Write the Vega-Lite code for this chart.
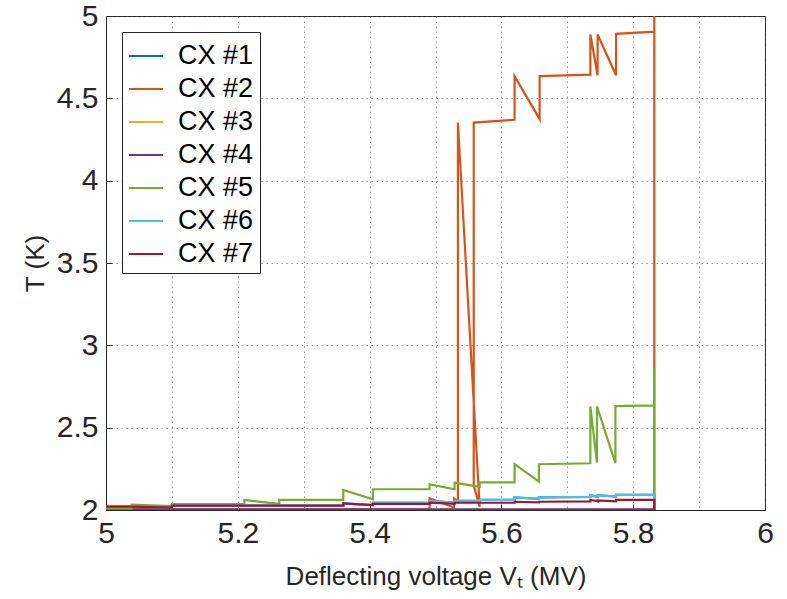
{
  "$schema": "https://vega.github.io/schema/vega-lite/v6.json",
  "autosize": "none",
  "width": 659,
  "height": 494,
  "padding": {"left": 106, "top": 16, "right": 22, "bottom": 89},
  "background": "white",
  "config": {
    "font": "Liberation Sans",
    "view": {"stroke": "#262626", "strokeWidth": 1},
    "axis": {
      "labelFont": "Liberation Sans",
      "titleFont": "Liberation Sans",
      "labelColor": "#262626",
      "titleColor": "#262626",
      "labelFontSize": 30,
      "titleFontSize": 26,
      "titleFontWeight": "normal",
      "domainColor": "#262626",
      "tickColor": "#262626",
      "gridColor": "#555555",
      "gridOpacity": 0.6,
      "gridDash": [1.5, 3.5],
      "gridWidth": 1
    }
  },
  "data": {
    "values": [
      {"s": "CX #1", "i": 0, "v": 5.0, "t": 2.02},
      {"s": "CX #1", "i": 1, "v": 5.04, "t": 2.02},
      {"s": "CX #1", "i": 2, "v": 5.1, "t": 2.015},
      {"s": "CX #1", "i": 3, "v": 5.1, "t": 2.026},
      {"s": "CX #1", "i": 4, "v": 5.36, "t": 2.026},
      {"s": "CX #1", "i": 5, "v": 5.36, "t": 2.04},
      {"s": "CX #1", "i": 6, "v": 5.405, "t": 2.03},
      {"s": "CX #1", "i": 7, "v": 5.405, "t": 2.044},
      {"s": "CX #1", "i": 8, "v": 5.491, "t": 2.044},
      {"s": "CX #1", "i": 9, "v": 5.491, "t": 2.055},
      {"s": "CX #1", "i": 10, "v": 5.529, "t": 2.045},
      {"s": "CX #1", "i": 11, "v": 5.529, "t": 2.055},
      {"s": "CX #1", "i": 12, "v": 5.567, "t": 2.055},
      {"s": "CX #1", "i": 13, "v": 5.567, "t": 2.061},
      {"s": "CX #1", "i": 14, "v": 5.62, "t": 2.061},
      {"s": "CX #1", "i": 15, "v": 5.62, "t": 2.077},
      {"s": "CX #1", "i": 16, "v": 5.657, "t": 2.068},
      {"s": "CX #1", "i": 17, "v": 5.657, "t": 2.077},
      {"s": "CX #1", "i": 18, "v": 5.735, "t": 2.08},
      {"s": "CX #1", "i": 19, "v": 5.735, "t": 2.09},
      {"s": "CX #1", "i": 20, "v": 5.746, "t": 2.08},
      {"s": "CX #1", "i": 21, "v": 5.746, "t": 2.09},
      {"s": "CX #1", "i": 22, "v": 5.774, "t": 2.082},
      {"s": "CX #1", "i": 23, "v": 5.774, "t": 2.092},
      {"s": "CX #1", "i": 24, "v": 5.832, "t": 2.092},
      {"s": "CX #1", "i": 25, "v": 5.832, "t": 2.0},

      {"s": "CX #2", "i": 0, "v": 5.0, "t": 2.006},
      {"s": "CX #2", "i": 1, "v": 5.491, "t": 2.006},
      {"s": "CX #2", "i": 2, "v": 5.491, "t": 2.071},
      {"s": "CX #2", "i": 3, "v": 5.528, "t": 2.015},
      {"s": "CX #2", "i": 4, "v": 5.528, "t": 2.071},
      {"s": "CX #2", "i": 5, "v": 5.534, "t": 2.05},
      {"s": "CX #2", "i": 6, "v": 5.534, "t": 4.353},
      {"s": "CX #2", "i": 7, "v": 5.567, "t": 2.02},
      {"s": "CX #2", "i": 8, "v": 5.558, "t": 2.15},
      {"s": "CX #2", "i": 9, "v": 5.558, "t": 4.353},
      {"s": "CX #2", "i": 10, "v": 5.62, "t": 4.37},
      {"s": "CX #2", "i": 11, "v": 5.62, "t": 4.635},
      {"s": "CX #2", "i": 12, "v": 5.658, "t": 4.374},
      {"s": "CX #2", "i": 13, "v": 5.658, "t": 4.635},
      {"s": "CX #2", "i": 14, "v": 5.735, "t": 4.644},
      {"s": "CX #2", "i": 15, "v": 5.735, "t": 4.888},
      {"s": "CX #2", "i": 16, "v": 5.746, "t": 4.64},
      {"s": "CX #2", "i": 17, "v": 5.746, "t": 4.888},
      {"s": "CX #2", "i": 18, "v": 5.774, "t": 4.64},
      {"s": "CX #2", "i": 19, "v": 5.774, "t": 4.892},
      {"s": "CX #2", "i": 20, "v": 5.832, "t": 4.905},
      {"s": "CX #2", "i": 21, "v": 5.832, "t": 5.3},
      {"s": "CX #2", "i": 22, "v": 5.832, "t": 2.0},

      {"s": "CX #3", "i": 0, "v": 5.0, "t": 2.003},
      {"s": "CX #3", "i": 1, "v": 5.832, "t": 2.003},
      {"s": "CX #3", "i": 2, "v": 5.832, "t": 2.0},

      {"s": "CX #4", "i": 0, "v": 5.0, "t": 2.004},
      {"s": "CX #4", "i": 1, "v": 5.832, "t": 2.004},
      {"s": "CX #4", "i": 2, "v": 5.832, "t": 2.0},

      {"s": "CX #5", "i": 0, "v": 5.0, "t": 2.01},
      {"s": "CX #5", "i": 1, "v": 5.039, "t": 2.01},
      {"s": "CX #5", "i": 2, "v": 5.039, "t": 2.032},
      {"s": "CX #5", "i": 3, "v": 5.1, "t": 2.024},
      {"s": "CX #5", "i": 4, "v": 5.1, "t": 2.036},
      {"s": "CX #5", "i": 5, "v": 5.21, "t": 2.036},
      {"s": "CX #5", "i": 6, "v": 5.21, "t": 2.061},
      {"s": "CX #5", "i": 7, "v": 5.263, "t": 2.037},
      {"s": "CX #5", "i": 8, "v": 5.263, "t": 2.061},
      {"s": "CX #5", "i": 9, "v": 5.36, "t": 2.061},
      {"s": "CX #5", "i": 10, "v": 5.36, "t": 2.122},
      {"s": "CX #5", "i": 11, "v": 5.405, "t": 2.065},
      {"s": "CX #5", "i": 12, "v": 5.405, "t": 2.126},
      {"s": "CX #5", "i": 13, "v": 5.491, "t": 2.126},
      {"s": "CX #5", "i": 14, "v": 5.491, "t": 2.156},
      {"s": "CX #5", "i": 15, "v": 5.529, "t": 2.126},
      {"s": "CX #5", "i": 16, "v": 5.529, "t": 2.166},
      {"s": "CX #5", "i": 17, "v": 5.567, "t": 2.14},
      {"s": "CX #5", "i": 18, "v": 5.567, "t": 2.168},
      {"s": "CX #5", "i": 19, "v": 5.62, "t": 2.168},
      {"s": "CX #5", "i": 20, "v": 5.62, "t": 2.278},
      {"s": "CX #5", "i": 21, "v": 5.657, "t": 2.172},
      {"s": "CX #5", "i": 22, "v": 5.657, "t": 2.278},
      {"s": "CX #5", "i": 23, "v": 5.735, "t": 2.284},
      {"s": "CX #5", "i": 24, "v": 5.735, "t": 2.629},
      {"s": "CX #5", "i": 25, "v": 5.745, "t": 2.288},
      {"s": "CX #5", "i": 26, "v": 5.745, "t": 2.629},
      {"s": "CX #5", "i": 27, "v": 5.773, "t": 2.284},
      {"s": "CX #5", "i": 28, "v": 5.773, "t": 2.631},
      {"s": "CX #5", "i": 29, "v": 5.832, "t": 2.635},
      {"s": "CX #5", "i": 30, "v": 5.832, "t": 2.865},
      {"s": "CX #5", "i": 31, "v": 5.832, "t": 2.0},

      {"s": "CX #6", "i": 0, "v": 5.0, "t": 2.02},
      {"s": "CX #6", "i": 1, "v": 5.04, "t": 2.02},
      {"s": "CX #6", "i": 2, "v": 5.1, "t": 2.015},
      {"s": "CX #6", "i": 3, "v": 5.1, "t": 2.026},
      {"s": "CX #6", "i": 4, "v": 5.36, "t": 2.026},
      {"s": "CX #6", "i": 5, "v": 5.36, "t": 2.04},
      {"s": "CX #6", "i": 6, "v": 5.405, "t": 2.03},
      {"s": "CX #6", "i": 7, "v": 5.405, "t": 2.044},
      {"s": "CX #6", "i": 8, "v": 5.491, "t": 2.044},
      {"s": "CX #6", "i": 9, "v": 5.491, "t": 2.055},
      {"s": "CX #6", "i": 10, "v": 5.529, "t": 2.045},
      {"s": "CX #6", "i": 11, "v": 5.529, "t": 2.055},
      {"s": "CX #6", "i": 12, "v": 5.567, "t": 2.055},
      {"s": "CX #6", "i": 13, "v": 5.567, "t": 2.061},
      {"s": "CX #6", "i": 14, "v": 5.62, "t": 2.061},
      {"s": "CX #6", "i": 15, "v": 5.62, "t": 2.077},
      {"s": "CX #6", "i": 16, "v": 5.657, "t": 2.068},
      {"s": "CX #6", "i": 17, "v": 5.657, "t": 2.077},
      {"s": "CX #6", "i": 18, "v": 5.735, "t": 2.08},
      {"s": "CX #6", "i": 19, "v": 5.735, "t": 2.09},
      {"s": "CX #6", "i": 20, "v": 5.746, "t": 2.08},
      {"s": "CX #6", "i": 21, "v": 5.746, "t": 2.09},
      {"s": "CX #6", "i": 22, "v": 5.774, "t": 2.082},
      {"s": "CX #6", "i": 23, "v": 5.774, "t": 2.092},
      {"s": "CX #6", "i": 24, "v": 5.832, "t": 2.092},
      {"s": "CX #6", "i": 25, "v": 5.832, "t": 2.0},

      {"s": "CX #7", "i": 0, "v": 5.0, "t": 2.02},
      {"s": "CX #7", "i": 1, "v": 5.04, "t": 2.02},
      {"s": "CX #7", "i": 2, "v": 5.1, "t": 2.015},
      {"s": "CX #7", "i": 3, "v": 5.1, "t": 2.026},
      {"s": "CX #7", "i": 4, "v": 5.36, "t": 2.026},
      {"s": "CX #7", "i": 5, "v": 5.36, "t": 2.04},
      {"s": "CX #7", "i": 6, "v": 5.405, "t": 2.03},
      {"s": "CX #7", "i": 7, "v": 5.405, "t": 2.037},
      {"s": "CX #7", "i": 8, "v": 5.491, "t": 2.037},
      {"s": "CX #7", "i": 9, "v": 5.491, "t": 2.044},
      {"s": "CX #7", "i": 10, "v": 5.529, "t": 2.038},
      {"s": "CX #7", "i": 11, "v": 5.529, "t": 2.044},
      {"s": "CX #7", "i": 12, "v": 5.62, "t": 2.044},
      {"s": "CX #7", "i": 13, "v": 5.62, "t": 2.05},
      {"s": "CX #7", "i": 14, "v": 5.657, "t": 2.046},
      {"s": "CX #7", "i": 15, "v": 5.657, "t": 2.05},
      {"s": "CX #7", "i": 16, "v": 5.735, "t": 2.052},
      {"s": "CX #7", "i": 17, "v": 5.735, "t": 2.062},
      {"s": "CX #7", "i": 18, "v": 5.746, "t": 2.052},
      {"s": "CX #7", "i": 19, "v": 5.746, "t": 2.058},
      {"s": "CX #7", "i": 20, "v": 5.774, "t": 2.053},
      {"s": "CX #7", "i": 21, "v": 5.774, "t": 2.061},
      {"s": "CX #7", "i": 22, "v": 5.832, "t": 2.061},
      {"s": "CX #7", "i": 23, "v": 5.832, "t": 2.0}
    ]
  },
  "mark": {"type": "line", "strokeWidth": 2.2, "clip": true},
  "encoding": {
    "x": {
      "field": "v",
      "type": "quantitative",
      "scale": {"domain": [5, 6], "nice": false, "zero": false},
      "axis": {
        "title": "Deflecting voltage Vₜ (MV)",
        "values": [5, 5.1, 5.2, 5.3, 5.4, 5.5, 5.6, 5.7, 5.8, 5.9, 6],
        "labelExpr": "round(datum.value * 10) % 2 == 0 ? datum.label : ''",
        "format": "~g",
        "grid": true,
        "ticks": true,
        "tickSize": -6,
        "tickOpacity": {"condition": {"test": "round(datum.value * 10) % 2 == 0", "value": 1}, "value": 0},
        "domain": true,
        "labelPadding": 14,
        "titlePadding": 15,
        "labelFlush": false
      }
    },
    "y": {
      "field": "t",
      "type": "quantitative",
      "scale": {"domain": [2, 5], "nice": false, "zero": false},
      "axis": {
        "title": "T (K)",
        "values": [2, 2.5, 3, 3.5, 4, 4.5, 5],
        "format": "~g",
        "grid": true,
        "ticks": true,
        "tickSize": -6,
        "labelPadding": 14,
        "titlePadding": 8,
        "labelFlush": false
      }
    },
    "color": {
      "field": "s",
      "type": "nominal",
      "scale": {
        "domain": ["CX #1", "CX #2", "CX #3", "CX #4", "CX #5", "CX #6", "CX #7"],
        "range": ["#0072BD", "#D95319", "#EDB120", "#7E2F8E", "#77AC30", "#4DBEEE", "#A2142F"]
      },
      "legend": {
        "title": null,
        "orient": "none",
        "legendX": 16,
        "legendY": 16,
        "padding": 6,
        "fillColor": "white",
        "strokeColor": "#262626",
        "labelFont": "Liberation Sans",
        "labelFontSize": 27,
        "labelColor": "#000000",
        "symbolType": "stroke",
        "symbolSize": 1156,
        "symbolStrokeWidth": 2,
        "rowPadding": 2,
        "labelOffset": 14
      }
    },
    "order": {"field": "i", "type": "quantitative"}
  }
}
